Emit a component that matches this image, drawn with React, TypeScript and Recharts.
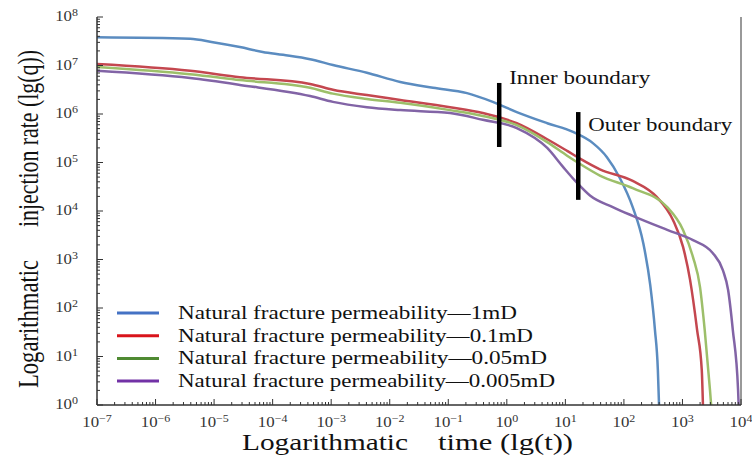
import { LineChart, Line, XAxis, YAxis, ReferenceLine, Legend } from 'recharts';

const FONT = "'Liberation Serif', 'Times New Roman', serif";

const seriesNames = [
  'Natural fracture permeability—1mD',
  'Natural fracture permeability—0.1mD',
  'Natural fracture permeability—0.05mD',
  'Natural fracture permeability—0.005mD',
];
const curveColors = ['#5b8cc0', '#c4474f', '#9dbf6a', '#8264a6'];
const legendColors = ['#4472c4', '#d9141b', '#4f8a32', '#7232a6'];

// values as log10(t) and log10(q)
const t1mD = [-7, -5.41, -5.02, -4.56, -4.17, -3.82, -3.36, -2.97, -2.39, -1.82, -1.26, -0.68, -0.24, 0.17, 0.69, 1.13, 1.47, 1.71, 1.93, 2.15, 2.33, 2.45, 2.53, 2.58, 2.6];
const q1mD = [7.58, 7.55, 7.48, 7.38, 7.28, 7.22, 7.13, 7.01, 6.85, 6.66, 6.54, 6.43, 6.25, 6.04, 5.81, 5.63, 5.4, 5.11, 4.68, 4.08, 3.34, 2.47, 1.55, 0.72, 0];

const t01mD = [-7, -5.41, -4.56, -3.36, -2.97, -2.39, -1.82, -0.97, -0.41, 0.17, 0.69, 1.03, 1.25, 1.59, 2.15, 2.56, 2.84, 3.01, 3.13, 3.25, 3.33, 3.35];
const q01mD = [7.03, 6.89, 6.76, 6.62, 6.5, 6.39, 6.29, 6.14, 6.02, 5.81, 5.48, 5.24, 5.08, 4.86, 4.62, 4.29, 3.81, 3.26, 2.58, 1.55, 0.72, 0];

const t005mD = [-7, -5.41, -4.56, -3.36, -2.97, -2.39, -1.82, -0.97, -0.41, 0.17, 0.69, 1.03, 1.25, 1.59, 2.15, 2.74, 3.01, 3.18, 3.3, 3.38, 3.47, 3.49];
const q005mD = [6.97, 6.82, 6.7, 6.54, 6.42, 6.31, 6.23, 6.08, 5.96, 5.77, 5.42, 5.14, 4.97, 4.73, 4.47, 4.08, 3.61, 3.05, 2.43, 1.55, 0.31, 0];

const t0005mD = [-7, -5.41, -4.56, -3.36, -2.97, -2.39, -1.82, -0.97, -0.41, 0.17, 0.69, 0.96, 1.2, 1.42, 1.81, 2.15, 2.74, 3.18, 3.52, 3.69, 3.78, 3.86, 3.95, 3.96];
const q0005mD = [6.89, 6.74, 6.6, 6.37, 6.25, 6.14, 6.08, 6.02, 5.88, 5.71, 5.3, 4.91, 4.58, 4.32, 4.08, 3.9, 3.61, 3.4, 3.13, 2.78, 2.37, 1.55, 0.31, 0];

const xDecades = [-7, -6, -5, -4, -3, -2, -1, 0, 1, 2, 3, 4];
const yDecades = [0, 1, 2, 3, 4, 5, 6, 7, 8];

// boundary markers: log10(t), log10(q) top and bottom
const boundaryLabels = ['Inner boundary', 'Outer boundary'];
const boundaryT = [-0.13, 1.22];
const boundaryTop = [6.64, 6.04];
const boundaryBottom = [5.32, 4.23];

const toRows = (t: number[], q: number[]) => t.map((v, i) => ({ t: v, q: q[i] }));
const series = [
  toRows(t1mD, q1mD),
  toRows(t01mD, q01mD),
  toRows(t005mD, q005mD),
  toRows(t0005mD, q0005mD),
];

const minors = (decades: number[]) => {
  const out: number[] = [];
  decades.slice(0, -1).forEach((d) => {
    for (let k = 2; k <= 9; k++) out.push(d + Math.log10(k));
  });
  return out;
};
const xTicks = [...xDecades, ...minors(xDecades)].sort((a, b) => a - b);
const yTicks = [...yDecades, ...minors(yDecades)].sort((a, b) => a - b);

const sup = (n: number) => (n < 0 ? '\u2212' + Math.abs(n) : String(n));

const XTick = (props: any) => {
  const { x, y, payload } = props;
  const v = payload.value;
  const major = xDecades.includes(v);
  return (
    <g>
      <line x1={x} y1={y} x2={x} y2={y - (major ? 6 : 3)} stroke="#333" strokeWidth={1} />
      {major && (
        <text
          transform={`translate(${x},${y + 22}) scale(1.2,1)`}
          textAnchor="middle"
          fontFamily={FONT}
          fontSize={14}
          fill="#333"
        >
          10<tspan fontSize={10} dy={-5}>{sup(v)}</tspan>
        </text>
      )}
    </g>
  );
};

const YTick = (props: any) => {
  const { x, y, payload } = props;
  const v = payload.value;
  const major = yDecades.includes(v);
  return (
    <g>
      <line x1={x} y1={y} x2={x + (major ? 6 : 3)} y2={y} stroke="#333" strokeWidth={1} />
      {major && (
        <text
          transform={`translate(${x - 19},${y + 4}) scale(1.2,1)`}
          textAnchor="end"
          fontFamily={FONT}
          fontSize={14}
          fill="#333"
        >
          10<tspan fontSize={10} dy={-5}>{sup(v)}</tspan>
        </text>
      )}
    </g>
  );
};

const XTitle = () => (
  <g fontFamily={FONT} fontSize={23} fill="#111">
    <text x={242} y={450} textLength={166} lengthAdjust="spacingAndGlyphs">Logarithmatic</text>
    <text x={438} y={450} textLength={135} lengthAdjust="spacingAndGlyphs">time (lg(t))</text>
  </g>
);

const YTitle = () => (
  <g fontFamily={FONT} fontSize={29} fill="#111">
    <text transform="translate(38,388) rotate(-90)" textLength={128} lengthAdjust="spacingAndGlyphs">
      Logarithmatic
    </text>
    <text transform="translate(38,227) rotate(-90)" textLength={177} lengthAdjust="spacingAndGlyphs">
      injection rate (lg(q))
    </text>
  </g>
);

const legendWidths = [339, 355, 369, 377];

const LegendBox = () => (
  <svg width={470} height={95}>
    {seriesNames.map((name, i) => {
      const y = 13 + i * 22.7;
      return (
        <g key={name}>
          <line x1={17} y1={y} x2={59} y2={y} stroke={legendColors[i]} strokeWidth={3} />
          <text
            x={78}
            y={y + 6}
            fontFamily={FONT}
            fontSize={18}
            fill="#111"
            textLength={legendWidths[i]}
            lengthAdjust="spacingAndGlyphs"
          >
            {name}
          </text>
        </g>
      );
    })}
  </svg>
);

const boundaryLabel = (i: number) => (props: any) => {
  const vb = props.viewBox || {};
  const dy = i === 0 ? 1 : 19;
  return (
    <text
      x={vb.x + 10}
      y={vb.y + dy}
      fontFamily={FONT}
      fontSize={18}
      fill="#111"
      textLength={i === 0 ? 141 : 144}
      lengthAdjust="spacingAndGlyphs"
    >
      {boundaryLabels[i]}
    </text>
  );
};

export default function App() {
  return (
    <div style={{ position: 'absolute', left: 0, top: 0, width: 752, height: 460, background: '#fff' }}>
      <LineChart width={752} height={460} margin={{ top: 17, right: 11, bottom: 25, left: 67 }}>
        <XAxis
          dataKey="t"
          type="number"
          domain={[-7, 4]}
          ticks={xTicks}
          interval={0}
          allowDataOverflow
          height={30}
          tickSize={0}
          tickMargin={0}
          tick={<XTick />}
          axisLine={{ stroke: '#333', strokeWidth: 1.5 }}
          label={<XTitle />}
        />
        <YAxis
          dataKey="q"
          type="number"
          domain={[0, 8]}
          ticks={yTicks}
          interval={0}
          allowDataOverflow
          width={30}
          tickSize={0}
          tickMargin={0}
          tick={<YTick />}
          axisLine={{ stroke: '#333', strokeWidth: 1.5 }}
          label={<YTitle />}
        />
        <ReferenceLine x={4} stroke="#777" strokeWidth={1.5} />
        {series.map((rows, i) => (
          <Line
            key={seriesNames[i]}
            data={rows}
            dataKey="q"
            name={seriesNames[i]}
            type="monotone"
            stroke={curveColors[i]}
            strokeWidth={2.5}
            dot={false}
            activeDot={false}
            isAnimationActive={false}
          />
        ))}
        {boundaryT.map((t, i) => (
          <ReferenceLine
            key={boundaryLabels[i]}
            segment={[
              { x: t, y: boundaryTop[i] },
              { x: t, y: boundaryBottom[i] },
            ]}
            stroke="#000"
            strokeWidth={4.5}
            label={boundaryLabel(i)}
          />
        ))}
        <Legend
          layout="vertical"
          align="center"
          verticalAlign="middle"
          wrapperStyle={{ left: 100, top: 300, width: 470, height: 95 }}
          content={<LegendBox />}
        />
      </LineChart>
    </div>
  );
}
